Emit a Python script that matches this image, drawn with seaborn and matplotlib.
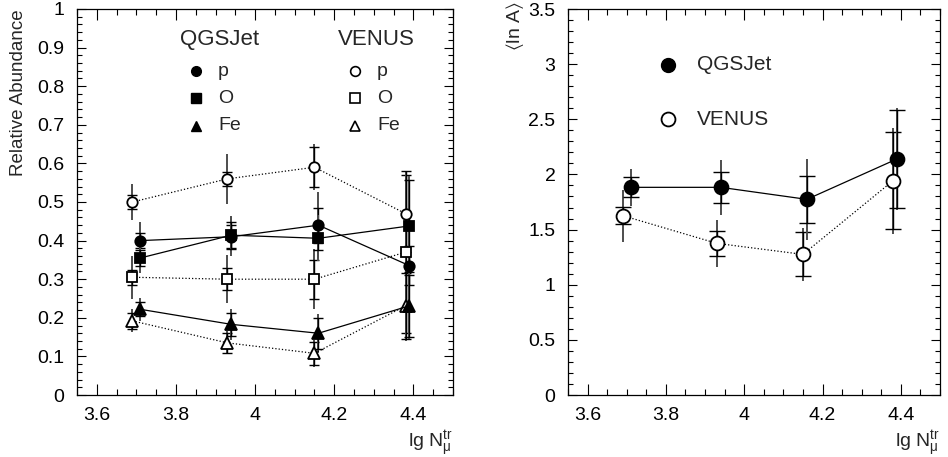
import matplotlib
matplotlib.use("Agg")
import matplotlib.pyplot as plt
import matplotlib.ticker as mticker
import seaborn as sns

# ---- data ------------------------------------------------------------------
# lg N_mu^tr bin positions (QGSJet shifted a bit to the right of VENUS)
x_qgs = [3.71, 3.94, 4.16, 4.39]
x_ven = [3.69, 3.93, 4.15, 4.38]

# relative abundances, QGSJet
qgs_p = [0.400, 0.410, 0.440, 0.335]
qgs_o = [0.355, 0.414, 0.406, 0.438]
qgs_fe = [0.222, 0.183, 0.160, 0.231]
# relative abundances, VENUS
ven_p = [0.500, 0.560, 0.590, 0.470]
ven_o = [0.305, 0.300, 0.300, 0.370]
ven_fe = [0.192, 0.135, 0.108, 0.231]

# error bars: capped part and plain line part
qgs_p_cap = [0.020, 0.030, 0.045, 0.050]
qgs_p_bar = [0.047, 0.050, 0.085, 0.100]
qgs_o_cap = [0.020, 0.035, 0.030, 0.120]
qgs_o_bar = [0.040, 0.050, 0.060, 0.130]
qgs_fe_cap = [0.018, 0.030, 0.040, 0.080]
qgs_fe_bar = [0.030, 0.040, 0.050, 0.085]
ven_p_cap = [0.018, 0.019, 0.052, 0.100]
ven_p_bar = [0.047, 0.065, 0.060, 0.100]
ven_o_cap = [0.020, 0.028, 0.050, 0.210]
ven_o_bar = [0.056, 0.062, 0.078, 0.210]
ven_fe_cap = [0.020, 0.026, 0.030, 0.085]
ven_fe_bar = [0.030, 0.030, 0.035, 0.090]

# mean logarithmic mass <ln A>
qgs_lna = [1.883, 1.883, 1.774, 2.140]
ven_lna = [1.626, 1.375, 1.275, 1.943]
qgs_lna_cap = [0.09, 0.14, 0.21, 0.44]
qgs_lna_bar = [0.17, 0.25, 0.37, 0.46]
ven_lna_cap = [0.08, 0.115, 0.20, 0.44]
ven_lna_bar = [0.235, 0.21, 0.24, 0.48]

sns.set_style("ticks")
plt.rcParams["font.family"] = ["Liberation Sans", "DejaVu Sans"]
plt.rcParams["mathtext.default"] = "regular"

fig = plt.figure(figsize=(9.48, 4.57), dpi=100)
ax1 = fig.add_axes([77 / 948, 62 / 457, 376 / 948, 386 / 457])
ax2 = fig.add_axes([568 / 948, 62 / 457, 372 / 948, 386 / 457])


def draw_series(ax, x, y, cap, bar, marker, filled, ls, ms, capsize):
    ax.errorbar(x, y, yerr=bar, fmt="none", ecolor="0.3", elinewidth=1.4,
                capsize=0, zorder=2)
    ax.errorbar(x, y, yerr=cap, fmt="none", ecolor="black", elinewidth=1.0,
                capsize=capsize, capthick=1.0, zorder=2)
    sns.lineplot(x=x, y=y, ax=ax, color="black", linestyle=ls, lw=0.9,
                 marker=marker, markersize=ms,
                 markerfacecolor="black" if filled else "white",
                 markeredgecolor="black", markeredgewidth=1.3, zorder=3)


def style_axes(ax, ymax, ymajor, yminor):
    ax.set_xlim(3.55, 4.5)
    ax.set_ylim(0, ymax)
    ax.xaxis.set_major_locator(mticker.MultipleLocator(0.2))
    ax.xaxis.set_minor_locator(mticker.MultipleLocator(0.05))
    ax.yaxis.set_major_locator(mticker.MultipleLocator(ymajor))
    ax.yaxis.set_minor_locator(mticker.MultipleLocator(yminor))
    fmt = mticker.FuncFormatter(lambda v, p: f"{v:g}")
    ax.xaxis.set_major_formatter(fmt)
    ax.yaxis.set_major_formatter(fmt)
    ax.tick_params(which="both", direction="in", top=True, right=True,
                   width=0.8, labelsize=14, colors="black")
    ax.tick_params(axis="x", which="major", length=8, pad=9)
    ax.tick_params(axis="x", which="minor", length=4.5)
    ax.tick_params(axis="y", which="major", length=6.5, pad=9)
    ax.tick_params(axis="y", which="minor", length=3.5)
    for s in ax.spines.values():
        s.set_linewidth(0.9)
        s.set_color("black")
    ax.text(1.0, -0.135, r"lg N$_{\mu}^{tr}$", transform=ax.transAxes,
            ha="right", va="baseline", fontsize=14)


# ---- left panel: relative abundances --------------------------------------
draw_series(ax1, x_ven, ven_p, ven_p_cap, ven_p_bar, "o", False, ":", 7.5, 3.5)
draw_series(ax1, x_ven, ven_o, ven_o_cap, ven_o_bar, "s", False, ":", 7, 3.5)
draw_series(ax1, x_ven, ven_fe, ven_fe_cap, ven_fe_bar, "^", False, ":", 8, 3.5)
draw_series(ax1, x_qgs, qgs_p, qgs_p_cap, qgs_p_bar, "o", True, "-", 7.5, 3.5)
draw_series(ax1, x_qgs, qgs_o, qgs_o_cap, qgs_o_bar, "s", True, "-", 7, 3.5)
draw_series(ax1, x_qgs, qgs_fe, qgs_fe_cap, qgs_fe_bar, "^", True, "-", 8, 3.5)
style_axes(ax1, 1.0, 0.1, 0.02)
ax1.set_xlabel("")
ax1.set_ylabel("Relative Abundance", loc="top", fontsize=13.5)
ax1.yaxis.set_label_coords(-0.133, 1.0)

# legend drawn by hand, like the original
ax1.text(0.378, 0.92, "QGSJet", transform=ax1.transAxes, ha="center",
         va="center", fontsize=16)
ax1.text(0.795, 0.92, "VENUS", transform=ax1.transAxes, ha="center",
         va="center", fontsize=16)
rows = [("o", "p", 0.839), ("s", "O", 0.769), ("^", "Fe", 0.697)]
for mk, lab, yy in rows:
    ax1.plot([0.316], [yy], marker=mk, ms=7, color="black",
             transform=ax1.transAxes, clip_on=False)
    ax1.text(0.375, yy, lab, transform=ax1.transAxes, ha="left",
             va="center", fontsize=14)
    ax1.plot([0.739], [yy], marker=mk, ms=7, mfc="white", mec="black",
             mew=1.2, transform=ax1.transAxes, clip_on=False)
    ax1.text(0.798, yy, lab, transform=ax1.transAxes, ha="left",
             va="center", fontsize=14)

# ---- right panel: mean logarithmic mass ------------------------------------
draw_series(ax2, x_ven, ven_lna, ven_lna_cap, ven_lna_bar, "o", False, ":", 10, 5.5)
draw_series(ax2, x_qgs, qgs_lna, qgs_lna_cap, qgs_lna_bar, "o", True, "-", 10, 5.5)
style_axes(ax2, 3.5, 0.5, 0.1)
ax2.set_xlabel("")
ax2.set_ylabel("")
ax2.text(-0.142, 1.02, r"$\langle$ln A$\rangle$", transform=ax2.transAxes,
         rotation=90, ha="center", va="top", fontsize=14)

ax2.plot([0.268], [0.855], marker="o", ms=10, color="black",
         transform=ax2.transAxes)
ax2.text(0.346, 0.855, "QGSJet", transform=ax2.transAxes, ha="left",
         va="center", fontsize=15)
ax2.plot([0.268], [0.714], marker="o", ms=10, mfc="white", mec="black",
         mew=1.3, transform=ax2.transAxes)
ax2.text(0.346, 0.714, "VENUS", transform=ax2.transAxes, ha="left",
         va="center", fontsize=15)

fig.savefig("out.png", dpi=100)
